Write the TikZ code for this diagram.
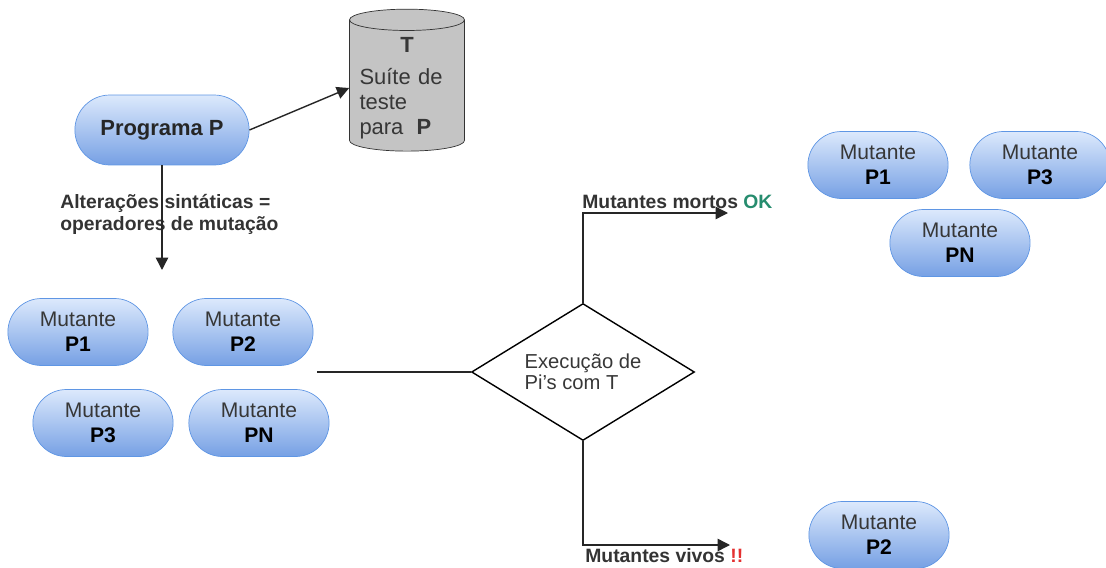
\documentclass[tikz,border=0pt]{standalone}
\usepackage{fontspec}
\setmainfont{Liberation Sans}
\usepackage{tikz}
\usetikzlibrary{shapes.geometric, shapes.misc, arrows.meta, positioning}

\definecolor{pillTop}{RGB}{220,233,252}
\definecolor{pillBot}{RGB}{118,160,228}
\definecolor{pillEdge}{RGB}{95,150,228}
\definecolor{mutText}{RGB}{55,55,55}
\definecolor{tankGray}{RGB}{196,196,196}
\definecolor{okGreen}{RGB}{38,140,110}
\definecolor{alertRed}{RGB}{228,48,48}

\begin{document}
\begin{tikzpicture}[
    x=0.02cm, y=-0.02cm,
    pill/.style={rounded rectangle, draw=pillEdge, top color=pillTop, bottom color=pillBot, minimum width=3.04cm, minimum height=1.34cm, align=center, text=mutText, font=\fontsize{12}{14.5}\selectfont},
    tank/.style={cylinder, shape border rotate=90, aspect=0.2, draw=black!80, fill=tankGray, minimum width=2.3cm, minimum height=2.84cm, text width=1.9cm, align=left, text=mutText, font=\fontsize{12.5}{14.2}\selectfont},
    decision/.style={diamond, draw=black, thick, aspect=1.63, minimum width=4.46cm, minimum height=2.74cm, inner sep=0pt, align=left, text=mutText, font=\fontsize{11.5}{12}\selectfont},
    lbl/.style={inner sep=0pt, text=black!80, font=\bfseries\fontsize{11}{12.5}\selectfont},
    link/.style={thick, draw=black!85},
    arrow/.style={-{Triangle[length=7pt,width=7pt]}, thick, draw=black!85}
]
    \useasboundingbox (0,0) rectangle (1106,568);

    % program and its test suite
    \node (prog) [pill, minimum width=3.72cm, minimum height=1.4cm, text=black!85, font=\bfseries\fontsize{12.5}{14.5}\selectfont] at (162,130) {Programa P};
    \node (suite) [tank] at (407,88) {\makebox[\linewidth]{\textbf{T}}\\[4pt]Suíte de\\teste\\para\hspace{0.6em}\textbf{P}};

    % mutants generated
    \node (mp1) [pill] at (78,332) {Mutante\\\textbf{\color{black}P1}};
    \node (mp2) [pill, right=0.48cm of mp1] {Mutante\\\textbf{\color{black}P2}};
    \node (mp3) [pill] at (103,423) {Mutante\\\textbf{\color{black}P3}};
    \node (mpn) [pill, right=0.3cm of mp3] {Mutante\\\textbf{\color{black}PN}};

    % execution
    \node (exec) [decision] at (583,372) {Execução de\\Pi's com T};

    % outcome groups
    \node (dp1) [pill] at (878,165) {Mutante\\\textbf{\color{black}P1}};
    \node (dp3) [pill, right=0.42cm of dp1] {Mutante\\\textbf{\color{black}P3}};
    \node (dpn) [pill] at (960,243) {Mutante\\\textbf{\color{black}PN}};
    \node (lp2) [pill] at (879,535) {Mutante\\\textbf{\color{black}P2}};

    \node (altlbl) [lbl, anchor=west, align=left] at (60,214) {Alterações sintáticas =\\operadores de mutação};
    \node (deadlbl) [lbl, anchor=base west] at (582,208) {Mutantes mortos \textcolor{okGreen}{OK}};
    \node (livelbl) [lbl, anchor=base west] at (585,562) {Mutantes vivos \textcolor{alertRed}{!!}};

    \coordinate (mutin) at (162,270);
    \coordinate (grpout) at (317,372);
    \coordinate (killed) at (728,213);
    \coordinate (alive) at (730,545);

    \draw [arrow] (prog.east) -- (suite.west);
    \draw [arrow] (prog.south) -- (mutin);
    \draw [link] (grpout) -- (exec.west);
    \draw [arrow] (exec.north) |- (killed);
    \draw [arrow] (exec.south) |- (alive);
\end{tikzpicture}
\end{document}
